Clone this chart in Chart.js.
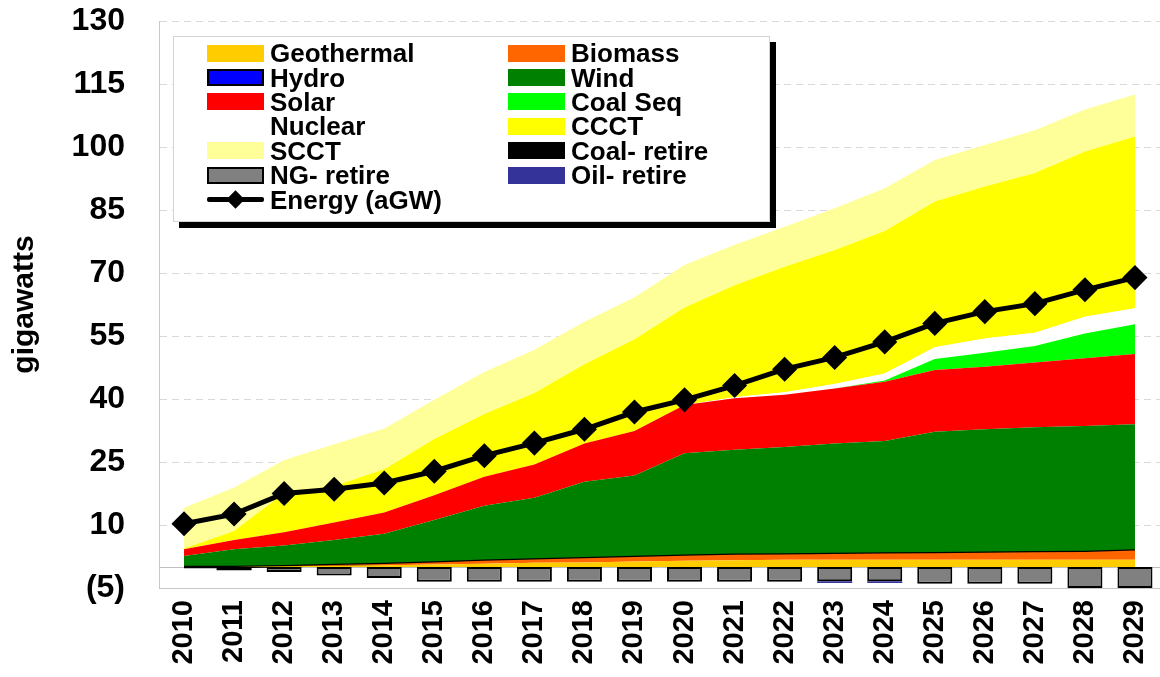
<!DOCTYPE html>
<html>
<head>
<meta charset="utf-8">
<script src="https://cdn.jsdelivr.net/npm/chart.js@4.4.1/dist/chart.umd.min.js"></script>
<style>
  body { margin: 0; background: #fff; }
  #area { position: relative; width: 1160px; height: 677px; }
  #legenda {
    position: absolute; left: 173px; top: 36px; width: 597px; height: 186px;
    box-sizing: border-box; border: 1px solid #d4d4d4; background: #fff;
    box-shadow: 6px 6px 0 #000;
    padding: 4px 0 0 33px;
    display: grid; grid-template-columns: 301px 1fr; grid-auto-rows: 24.4px;
    font: bold 26px "Liberation Sans", Arial, sans-serif; color: #000;
  }
  .item { display: flex; align-items: center; white-space: nowrap; line-height: 24px; }
  .amostra { width: 57px; height: 17px; margin-right: 6px; box-sizing: border-box; flex: none; position: relative; }
  .amostra.linha::before { content: ""; position: absolute; left: 0; right: 0; top: 6px; height: 5px; background: #000; border-radius: 2px; }
  .amostra.linha::after { content: ""; position: absolute; left: 22px; top: 2px; width: 13px; height: 13px; background: #000; transform: rotate(45deg); }
</style>
</head>
<body>
<div id="area">
  <canvas id="grafico" width="1160" height="677"></canvas>
  <div id="legenda"></div>
</div>
<script>
// Anos do eixo X
const anos = ['2010','2011','2012','2013','2014','2015','2016','2017','2018','2019',
              '2020','2021','2022','2023','2024','2025','2026','2027','2028','2029'];

// Capacidade adicionada por fonte (GW), empilhada de baixo para cima
const geotermica = [0, 0, 0.2, 0.3, 0.4, 0.6, 0.8, 1.0, 1.1, 1.3, 1.5, 1.6, 1.7, 1.7, 1.7, 1.7, 1.7, 1.7, 1.7, 1.7];
const biomassa   = [0, 0, 0, 0.2, 0.3, 0.5, 0.7, 0.8, 1.0, 1.1, 1.2, 1.3, 1.3, 1.4, 1.5, 1.6, 1.7, 1.8, 1.9, 2.2];
const hidro      = [0, 0, 0, 0, 0, 0, 0, 0, 0, 0, 0, 0, 0, 0, 0, 0, 0, 0, 0, 0];
const eolica     = [2.6, 4.2, 4.9, 5.9, 7.2, 10.1, 13.1, 14.7, 18.2, 19.4, 24.4, 25.0, 25.6, 26.3, 26.8, 28.9, 29.4, 29.8, 30.0, 30.1];
const solar      = [1.6, 2.2, 3.2, 4.2, 5.1, 5.9, 6.9, 7.9, 9.1, 10.6, 11.5, 12.3, 12.4, 13.1, 14.1, 14.7, 14.9, 15.4, 16.1, 16.7];
const carvaoSeq  = [0, 0, 0, 0, 0, 0, 0, 0, 0, 0, 0, 0, 0, 0, 0.3, 2.6, 3.3, 3.9, 5.9, 7.1];
const nuclear    = [0, 0, 0, 0, 0, 0, 0, 0, 0, 0, 0, 0.2, 0.6, 1.1, 1.7, 2.8, 3.4, 3.2, 4.0, 3.8];
const ccct       = [0.2, 2.2, 9.4, 8.7, 10.3, 13.4, 14.9, 17.0, 18.9, 21.8, 23.2, 26.7, 29.9, 31.9, 33.9, 34.7, 36.2, 38.0, 39.3, 40.9];
const scct       = [9.7, 10.3, 7.8, 9.9, 9.7, 9.3, 10.0, 10.3, 10.1, 10.0, 10.1, 9.6, 9.5, 9.9, 10.2, 9.9, 9.9, 10.2, 10.0, 10.0];

// Aposentadorias (valores negativos, em barras)
const carvaoRetira = [0, -0.8, 0, 0, 0, 0, 0, 0, 0, 0, 0, 0, 0, 0, 0, 0, 0, 0, 0, 0];
const gnRetira     = [0, 0, -1.2, -2.0, -2.6, -3.5, -3.5, -3.5, -3.5, -3.5, -3.5, -3.5, -3.5, -3.4, -3.4, -4.0, -4.0, -4.0, -5.0, -5.0];
const oleoRetira   = [0, 0, 0, 0, 0, 0, 0, 0, 0, 0, 0, 0, 0, -0.4, -0.4, 0, 0, 0, 0, 0];

// Energia média (aGW)
const energia = [10.3, 12.6, 17.5, 18.5, 20.0, 22.8, 26.5, 29.5, 32.8, 36.9, 39.8, 43.2, 47.1, 49.9, 53.6, 58.0, 60.8, 62.7, 66.0, 68.9];

const fonte = '"Liberation Sans", Arial, sans-serif';

// Monta uma camada de área empilhada (preenche até a série anterior)
function camada(label, dados, cor, extra) {
  return Object.assign({
    type: 'line', label: label, data: dados,
    backgroundColor: cor, borderColor: 'rgba(0,0,0,0)', borderWidth: 0,
    pointRadius: 0, tension: 0, fill: '-1', stack: 'areas', order: 2
  }, extra || {});
}

// Monta uma série de barras de aposentadoria
function barras(label, dados, cor, borda) {
  return {
    type: 'bar', label: label, data: dados, backgroundColor: cor,
    borderColor: '#000', borderWidth: borda, borderSkipped: false,
    stack: 'retiradas', order: 1, barPercentage: 0.7, categoryPercentage: 1
  };
}

// Linha do zero
const linhaZero = {
  id: 'linhaZero',
  beforeDatasetsDraw(chart) {
    const { ctx, chartArea, scales: { y } } = chart;
    const y0 = Math.round(y.getPixelForValue(0)) + 0.5;
    ctx.save();
    ctx.strokeStyle = '#c0c0c0';
    ctx.lineWidth = 1;
    ctx.beginPath();
    ctx.moveTo(chartArea.left, y0);
    ctx.lineTo(chartArea.right, y0);
    ctx.stroke();
    ctx.restore();
  }
};

const ctx = document.getElementById('grafico').getContext('2d');
const grafico = new Chart(ctx, {
  type: 'bar',
  data: {
    labels: anos,
    datasets: [
      camada('Geothermal', geotermica, '#FFCC00', { fill: 'origin' }),
      camada('Biomass', biomassa, '#FF6600'),
      camada('Hydro', hidro, '#0000FF', { borderColor: '#000', borderWidth: 2.5 }),
      camada('Wind', eolica, '#008000'),
      camada('Solar', solar, '#FF0000'),
      camada('Coal Seq', carvaoSeq, '#00FF00'),
      camada('Nuclear', nuclear, '#FFFFFF'),
      camada('CCCT', ccct, '#FFFF00'),
      camada('SCCT', scct, '#FFFF99'),
      barras('Coal- retire', carvaoRetira, '#000000', 0),
      barras('NG- retire', gnRetira, '#808080', 2),
      barras('Oil- retire', oleoRetira, '#333399', 0),
      {
        type: 'line', label: 'Energy (aGW)', data: energia,
        borderColor: '#000', borderWidth: 5, fill: false, tension: 0,
        pointStyle: 'rectRot', pointRadius: 9, pointBackgroundColor: '#000', pointBorderColor: '#000',
        stack: 'energia', order: 0
      }
    ]
  },
  options: {
    responsive: false,
    animation: false,
    devicePixelRatio: 1,
    layout: { autoPadding: false, padding: { top: 21, right: 0, left: 0, bottom: 0 } },
    scales: {
      x: {
        offset: true,
        grid: { display: false, drawTicks: false },
        border: { display: true, color: '#c8c8c8' },
        ticks: {
          autoSkip: false, maxRotation: 90, minRotation: 90, padding: 12,
          color: '#000', font: { family: fonte, size: 29, weight: 'bold' }
        },
        afterFit: s => { s.height = 89; s.paddingLeft = 0; s.paddingRight = 0; }
      },
      y: {
        stacked: true,
        min: -5, max: 130,
        grid: { color: '#d9d9d9', drawTicks: false },
        border: { display: true, color: '#c8c8c8', dash: [7, 5] },
        ticks: {
          stepSize: 15, padding: 34, color: '#000',
          font: { family: fonte, size: 32, weight: 'bold' },
          callback: v => v < 0 ? '(' + (-v) + ')' : v
        },
        title: {
          display: true, text: 'gigawatts', color: '#000',
          font: { family: fonte, size: 30, weight: 'bold' },
          padding: { top: 7, bottom: 0 }
        },
        afterFit: s => { s.width = 159; s.paddingTop = 0; s.paddingBottom = 0; }
      }
    },
    plugins: {
      legend: { display: false },
      tooltip: { enabled: false }
    }
  },
  plugins: [linhaZero]
});

// Legenda em duas colunas, montada a partir das séries
const legenda = document.getElementById('legenda');
grafico.data.datasets.forEach(d => {
  const item = document.createElement('div');
  item.className = 'item';
  const amostra = document.createElement('span');
  amostra.className = 'amostra';
  if (d.label === 'Energy (aGW)') {
    amostra.classList.add('linha');
  } else {
    amostra.style.background = d.backgroundColor;
    if (d.label === 'Hydro' || d.label === 'NG- retire') amostra.style.border = '2px solid #000';
  }
  item.appendChild(amostra);
  item.appendChild(document.createTextNode(d.label));
  legenda.appendChild(item);
});
</script>
</body>
</html>
